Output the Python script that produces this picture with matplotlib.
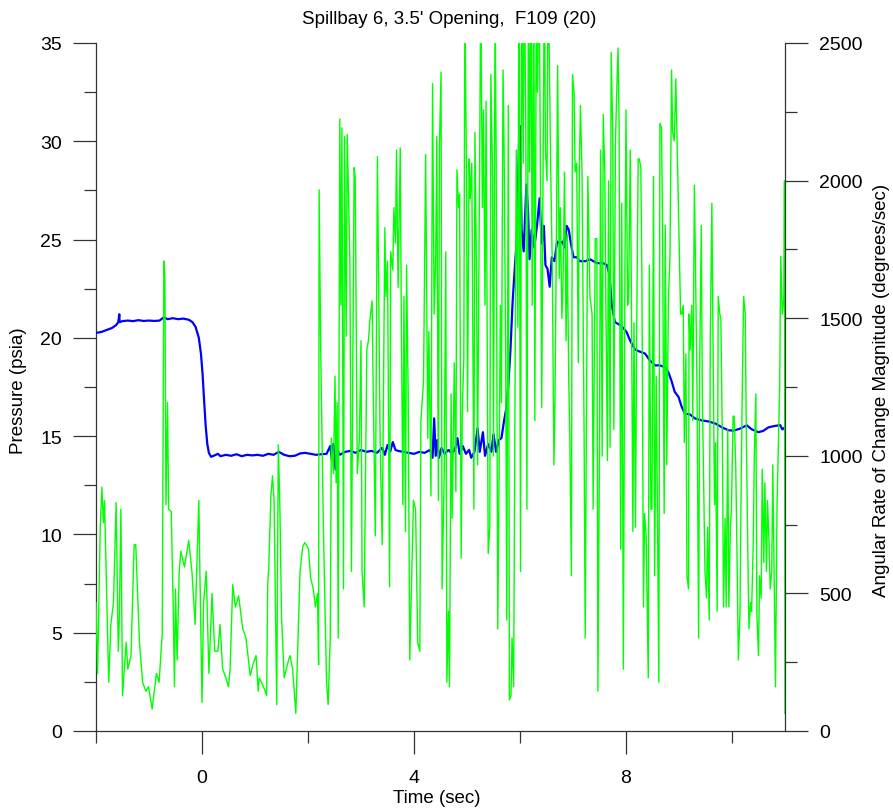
import numpy as np
import matplotlib.pyplot as plt
from matplotlib.ticker import MultipleLocator

plt.rcParams['font.family'] = ['Liberation Sans', 'DejaVu Sans']

# pressure trace (blue, left axis)
p_time = [-2.00, -1.90, -1.80, -1.70, -1.62, -1.58, -1.56, -1.555, -1.50, -1.40,
          -1.30, -1.20, -1.10, -1.00, -0.90, -0.80, -0.72, -0.65, -0.55, -0.45,
          -0.35, -0.25, -0.18, -0.12, -0.06, -0.02, 0.01, 0.04, 0.07, 0.10,
          0.13, 0.17, 0.22, 0.30, 0.35, 0.45, 0.55, 0.65, 0.75, 0.85,
          0.95, 1.05, 1.15, 1.25, 1.35, 1.45, 1.55, 1.65, 1.75, 1.85,
          1.95, 2.05, 2.15, 2.25, 2.35, 2.42, 2.45, 2.48, 2.52, 2.55,
          2.60, 2.70, 2.80, 2.90, 3.00, 3.10, 3.20, 3.30, 3.40, 3.45,
          3.50, 3.55, 3.60, 3.65, 3.70, 3.80, 3.90, 4.00, 4.10, 4.20,
          4.30, 4.35, 4.38, 4.41, 4.44, 4.47, 4.52, 4.58, 4.65, 4.72,
          4.78, 4.82, 4.86, 4.92, 4.98, 5.04, 5.08, 5.14, 5.20, 5.24,
          5.30, 5.34, 5.40, 5.46, 5.50, 5.55, 5.60, 5.65, 5.70, 5.74,
          5.78, 5.82, 5.86, 5.90, 5.94, 5.97, 5.99, 6.01, 6.03, 6.07,
          6.10, 6.12, 6.15, 6.18, 6.22, 6.27, 6.32, 6.37, 6.41, 6.45,
          6.48, 6.52, 6.56, 6.60, 6.65, 6.70, 6.75, 6.80, 6.84, 6.88,
          6.92, 6.96, 7.01, 7.07, 7.13, 7.23, 7.32, 7.45, 7.57, 7.64,
          7.69, 7.73, 7.79, 7.89, 7.95, 8.01, 8.08, 8.17, 8.26, 8.36,
          8.45, 8.55, 8.64, 8.74, 8.80, 8.86, 8.92, 8.99, 9.05, 9.11,
          9.21, 9.30, 9.43, 9.55, 9.68, 9.81, 9.93, 10.03, 10.15, 10.28,
          10.37, 10.50, 10.59, 10.69, 10.81, 10.91, 10.95, 11.00]
pressure = [20.25, 20.30, 20.40, 20.50, 20.65, 20.80, 21.20, 20.80, 20.85, 20.88,
            20.85, 20.90, 20.86, 20.88, 20.86, 20.88, 21.05, 20.95, 21.00, 20.95,
            20.98, 20.92, 20.80, 20.55, 20.00, 19.20, 18.20, 16.80, 15.50, 14.60,
            14.15, 13.95, 14.00, 14.10, 13.98, 14.05, 14.00, 14.08, 13.98, 14.05,
            14.02, 14.05, 14.00, 14.10, 14.05, 14.20, 14.05, 13.98, 14.00, 14.12,
            14.15, 14.10, 14.05, 14.08, 14.10, 14.50, 13.80, 14.60, 13.30, 14.30,
            14.05, 14.20, 14.25, 14.15, 14.30, 14.20, 14.25, 14.15, 14.40, 14.05,
            14.55, 14.20, 14.70, 14.30, 14.25, 14.20, 14.15, 14.10, 14.20, 14.15,
            14.30, 13.90, 15.90, 14.00, 14.80, 13.90, 14.40, 14.10, 14.30, 14.10,
            14.40, 14.90, 14.10, 14.50, 14.10, 14.30, 13.90, 14.20, 15.40, 14.20,
            15.20, 14.00, 14.60, 14.20, 15.10, 14.20, 14.80, 14.90, 15.80, 16.40,
            17.60, 19.40, 21.80, 23.50, 25.00, 28.50, 30.80, 29.00, 25.50, 24.40,
            26.50, 27.80, 26.60, 24.00, 25.50, 24.60, 25.70, 27.10, 24.80, 25.70,
            23.70, 23.50, 22.60, 24.10, 23.90, 24.90, 24.80, 24.90, 24.60, 25.70,
            25.50, 24.80, 24.10, 24.10, 23.90, 23.90, 24.00, 23.80, 23.80, 23.70,
            23.20, 21.70, 20.80, 20.65, 20.50, 20.30, 19.85, 19.40, 19.30, 19.20,
            18.85, 18.60, 18.60, 18.50, 18.25, 17.80, 17.25, 17.00, 16.50, 16.15,
            16.10, 15.90, 15.80, 15.75, 15.65, 15.45, 15.30, 15.28, 15.38, 15.55,
            15.35, 15.20, 15.27, 15.45, 15.52, 15.56, 15.34, 15.45]

# angular rate trace (green, right axis)
r_time = [-2.00, -1.97, -1.92, -1.89, -1.86, -1.84, -1.80, -1.76, -1.72, -1.67,
          -1.62, -1.58, -1.56, -1.53, -1.50, -1.43, -1.40, -1.34, -1.28, -1.25,
          -1.18, -1.12, -1.06, -1.01, -0.94, -0.90, -0.86, -0.81, -0.75, -0.72,
          -0.70, -0.68, -0.65, -0.63, -0.58, -0.54, -0.52, -0.50, -0.47, -0.43,
          -0.40, -0.33, -0.25, -0.19, -0.13, -0.06, -0.04, 0.00, 0.03, 0.08,
          0.13, 0.19, 0.24, 0.30, 0.34, 0.39, 0.45, 0.50, 0.53, 0.58,
          0.63, 0.69, 0.77, 0.83, 0.91, 0.96, 1.02, 1.06, 1.08, 1.16,
          1.22, 1.24, 1.26, 1.30, 1.33, 1.36, 1.41, 1.44, 1.47, 1.50,
          1.55, 1.61, 1.66, 1.71, 1.77, 1.85, 1.90, 1.94, 2.01, 2.05,
          2.10, 2.14, 2.18, 2.20, 2.21, 2.24, 2.29, 2.35, 2.38, 2.42,
          2.44, 2.48, 2.51, 2.53, 2.55, 2.57, 2.60, 2.62, 2.64, 2.67,
          2.69, 2.72, 2.74, 2.77, 2.79, 2.82, 2.87, 2.89, 2.93, 2.97,
          3.00, 3.02, 3.06, 3.11, 3.14, 3.17, 3.21, 3.23, 3.27, 3.31,
          3.36, 3.40, 3.45, 3.47, 3.50, 3.54, 3.56, 3.60, 3.62, 3.65,
          3.67, 3.70, 3.74, 3.76, 3.79, 3.81, 3.84, 3.86, 3.89, 3.92,
          3.96, 3.99, 4.03, 4.07, 4.11, 4.13, 4.18, 4.22, 4.26, 4.28,
          4.32, 4.35, 4.38, 4.41, 4.43, 4.46, 4.48, 4.51, 4.53, 4.57,
          4.60, 4.62, 4.65, 4.67, 4.70, 4.72, 4.76, 4.79, 4.81, 4.84,
          4.86, 4.89, 4.91, 4.94, 4.96, 4.99, 5.01, 5.04, 5.06, 5.09,
          5.13, 5.15, 5.18, 5.20, 5.23, 5.26, 5.29, 5.31, 5.34, 5.36,
          5.40, 5.43, 5.45, 5.48, 5.50, 5.53, 5.55, 5.58, 5.60, 5.63,
          5.65, 5.68, 5.70, 5.73, 5.75, 5.78, 5.80, 5.83, 5.85, 5.88,
          5.91, 5.93, 5.96, 5.98, 6.01, 6.03, 6.06, 6.08, 6.11, 6.13,
          6.16, 6.18, 6.21, 6.23, 6.26, 6.28, 6.31, 6.33, 6.36, 6.38,
          6.41, 6.43, 6.46, 6.48, 6.51, 6.53, 6.56, 6.58, 6.61, 6.64,
          6.66, 6.69, 6.71, 6.74, 6.76, 6.79, 6.81, 6.84, 6.87, 6.89,
          6.92, 6.94, 6.97, 6.99, 7.02, 7.04, 7.07, 7.10, 7.12, 7.14,
          7.17, 7.21, 7.23, 7.26, 7.28, 7.32, 7.36, 7.38, 7.42, 7.45,
          7.47, 7.50, 7.52, 7.55, 7.57, 7.60, 7.62, 7.65, 7.67, 7.70,
          7.72, 7.75, 7.77, 7.80, 7.82, 7.85, 7.87, 7.90, 7.92, 7.95,
          7.98, 8.00, 8.03, 8.05, 8.08, 8.10, 8.13, 8.15, 8.18, 8.20,
          8.23, 8.25, 8.28, 8.30, 8.33, 8.35, 8.38, 8.42, 8.44, 8.47,
          8.49, 8.52, 8.54, 8.57, 8.59, 8.62, 8.64, 8.67, 8.69, 8.72,
          8.74, 8.77, 8.80, 8.83, 8.86, 8.88, 8.91, 8.94, 8.98, 9.02,
          9.03, 9.05, 9.08, 9.10, 9.13, 9.15, 9.18, 9.19, 9.21, 9.24,
          9.26, 9.29, 9.31, 9.34, 9.37, 9.39, 9.42, 9.44, 9.47, 9.49,
          9.52, 9.54, 9.57, 9.59, 9.62, 9.64, 9.67, 9.69, 9.72, 9.74,
          9.77, 9.79, 9.82, 9.84, 9.87, 9.89, 9.92, 9.94, 9.97, 9.99,
          10.02, 10.04, 10.07, 10.09, 10.12, 10.15, 10.17, 10.20, 10.22, 10.25,
          10.27, 10.30, 10.32, 10.35, 10.37, 10.40, 10.42, 10.45, 10.47, 10.50,
          10.52, 10.55, 10.57, 10.60, 10.62, 10.65, 10.67, 10.70, 10.72, 10.75,
          10.77, 10.80, 10.82, 10.85, 10.87, 10.90, 10.92, 10.95, 10.98, 10.99,
          11.00]
rate = [467, 209, 741, 886, 757, 838, 500, 177, 387, 467,
        830, 290, 403, 806, 129, 322, 225, 274, 677, 677,
        322, 177, 145, 161, 80, 145, 209, 177, 355, 1708,
        1644, 822, 1193, 806, 798, 419, 161, 516, 258, 580,
        653, 596, 693, 580, 387, 838, 580, 104, 467, 580,
        209, 500, 290, 290, 387, 225, 193, 161, 225, 532,
        451, 491, 371, 338, 201, 241, 274, 145, 193, 161,
        129, 532, 596, 854, 927, 838, 96, 1040, 806, 419,
        193, 241, 274, 225, 64, 580, 669, 685, 661, 556,
        516, 451, 500, 241, 1966, 1386, 741, 177, 96, 338,
        1064, 935, 1289, 902, 1193, 338, 2224, 1547, 2192, 516,
        2160, 1434, 2168, 1902, 1708, 580, 2047, 2015, 935, 1064,
        1418, 580, 451, 1386, 1418, 1499, 1563, 1241, 709, 2087,
        1064, 677, 1829, 1579, 1708, 524, 1741, 1676, 1902, 1773,
        2111, 1612, 2119, 1515, 822, 1579, 725, 1692, 1225, 258,
        580, 838, 806, 322, 290, 1128, 1273, 2095, 1064, 1451,
        854, 2353, 1515, 1725, 2160, 838, 2127, 2394, 516, 935,
        1741, 177, 435, 161, 1225, 773, 1338, 870, 2039, 1902,
        1950, 628, 1160, 1354, 2650, 2031, 1160, 2079, 1934, 2063,
        806, 2176, 1644, 967, 1837, 2700, 1902, 2257, 1547, 2289,
        645, 741, 2386, 2047, 999, 2650, 2111, 371, 806, 1547,
        1193, 2402, 2111, 1354, 403, 2273, 113, 129, 338, 161,
        1386, 2111, 1467, 2800, 580, 2800, 2063, 2800, 2192, 806,
        2800, 2031, 2800, 1547, 2800, 1128, 2800, 2321, 2800, 2192,
        1176, 1870, 2800, 2111, 1999, 2800, 2321, 2031, 1676, 967,
        1193, 1870, 2418, 1644, 1902, 1499, 1612, 2031, 1418, 1805,
        1273, 1064, 564, 2386, 2321, 2031, 2063, 1338, 2047, 2273,
        2031, 1064, 338, 1386, 2015, 1579, 1515, 806, 1789, 1789,
        145, 1048, 2111, 999, 2240, 2031, 1547, 983, 1999, 1031,
        2466, 2176, 1096, 2127, 2289, 2482, 2192, 661, 1918, 225,
        1676, 2257, 1547, 1579, 2111, 1628, 725, 1483, 741, 1418,
        2079, 2079, 2047, 1644, 451, 790, 709, 193, 1692, 806,
        806, 2015, 564, 1289, 870, 177, 2208, 2192, 1821, 790,
        1837, 967, 1563, 1725, 2402, 2176, 2144, 2370, 1983, 1612,
        1515, 1515, 1547, 1048, 1370, 564, 516, 1515, 1386, 1547,
        1128, 1983, 1708, 1241, 338, 1322, 1837, 1225, 822, 580,
        483, 741, 403, 1418, 1918, 1451, 822, 1048, 435, 1579,
        1515, 1499, 1031, 451, 773, 451, 1096, 451, 741, 806,
        1144, 1144, 967, 709, 258, 419, 838, 1338, 1579, 1515,
        1080, 628, 371, 467, 435, 677, 983, 1225, 419, 274,
        564, 483, 951, 612, 902, 580, 838, 677, 516, 580,
        967, 500, 161, 822, 999, 1257, 1725, 1515, 1579, 1999,
        64]

fig = plt.figure(figsize=(8.93, 8.12), dpi=100)
ax = fig.add_axes([96 / 893, 80 / 812, 689 / 893, 688 / 812])
ax2 = ax.twinx()

ax.plot(p_time, pressure, color='#0000FF', lw=1.6, zorder=3)
ax2.plot(r_time, rate, color='#00FF00', lw=1.0)

ax.set_xlim(-2, 11)
ax.set_ylim(0, 35)
ax2.set_ylim(0, 2500)

ax.xaxis.set_major_locator(MultipleLocator(4))
ax.xaxis.set_minor_locator(MultipleLocator(2))
ax.yaxis.set_major_locator(MultipleLocator(5))
ax.yaxis.set_minor_locator(MultipleLocator(2.5))
ax2.yaxis.set_major_locator(MultipleLocator(500))
ax2.yaxis.set_minor_locator(MultipleLocator(250))

for s in ['top', 'right']:
    ax.spines[s].set_visible(False)
for s in ['top', 'left', 'bottom']:
    ax2.spines[s].set_visible(False)
for a in (ax, ax2):
    for s in a.spines.values():
        s.set_color('#333333')
        s.set_linewidth(0.9)

ax.tick_params(axis='both', which='major', length=16.5, width=0.9,
               color='#333333', labelsize=14)
ax.tick_params(axis='both', which='minor', length=8.5, width=0.9, color='#333333')
ax.tick_params(axis='x', which='major', pad=11)
ax.tick_params(axis='y', which='major', pad=8)
ax2.tick_params(axis='y', which='major', length=16.5, width=0.9,
                color='#333333', labelsize=14, pad=8)
ax2.tick_params(axis='y', which='minor', length=8.5, width=0.9, color='#333333')

fig.text(449 / 893, 1 - 20 / 812, "Spillbay 6, 3.5' Opening,  F109 (20)",
         ha='center', va='center', fontsize=13.5)
fig.text(437 / 893, 1 - 799 / 812, "Time (sec)", ha='center', va='center',
         fontsize=13.5)
fig.text(19 / 893, 1 - 391 / 812, "Pressure (psia)", ha='center', va='center',
         rotation=90, fontsize=13.5)
fig.text(881 / 893, 1 - 390 / 812, "Angular Rate of Change Magnitude (degrees/sec)",
         ha='center', va='center', rotation=90, fontsize=13.5)

fig.savefig('out.png', dpi=100)
